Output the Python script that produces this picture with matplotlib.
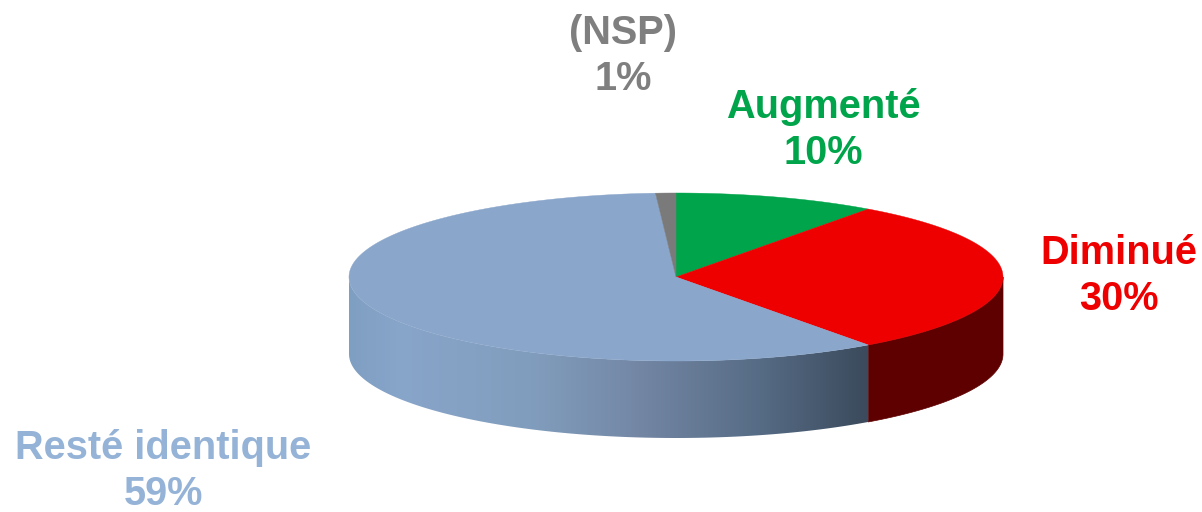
import numpy as np
import matplotlib
matplotlib.use('Agg')
import matplotlib.pyplot as plt
from matplotlib.colors import LinearSegmentedColormap
from matplotlib.patches import Polygon

# order: clockwise from 12 o'clock
labels = ['Augmenté', 'Diminué', 'Resté identique', '(NSP)']
values = [10, 30, 59, 1]
top_colors = ['#00a44a', '#ee0000', '#8aa6cb', '#7a7a7a']
text_colors = ['#00a44a', '#ee0000', '#95b3d7', '#7f7f7f']
side_red = '#5f0000'
label_pos = [(823, 130), (1119, 276), (163, 471), (623, 56)]

CX, CY = 676, 277
RX, RY = 327, 84
DEPTH = 77

plt.rcParams['font.family'] = ['Liberation Sans', 'DejaVu Sans']


def rim(a0, a1, n=200):
    # angles in degrees, clockwise from the top
    t = np.radians(np.linspace(a0, a1, n))
    return CX + RX * np.sin(t), CY - RY * np.cos(t)


def main():
    fig = plt.figure(figsize=(12.02, 5.12), dpi=100)
    ax = fig.add_axes([0, 0, 1, 1])
    ax.set_xlim(0, 1202)
    ax.set_ylim(512, 0)
    ax.axis('off')

    edges = np.cumsum([0] + values) * 3.6

    # side wall, only the front half shows
    red_x, red_y = rim(90, edges[2])
    red_side = np.column_stack([np.r_[red_x, red_x[::-1]], np.r_[red_y, red_y[::-1] + DEPTH]])
    ax.add_patch(Polygon(red_side, closed=True, fc=side_red, ec=side_red, lw=0.5, zorder=1))

    blue_x, blue_y = rim(edges[2], 270)
    blue_side = np.column_stack([np.r_[blue_x, blue_x[::-1]], np.r_[blue_y, blue_y[::-1] + DEPTH]])
    clip = Polygon(blue_side, closed=True, fc='none', ec='none', transform=ax.transData)
    ax.add_patch(clip)
    cmap = LinearSegmentedColormap.from_list('side', [
        (0.00, '#7f9fc2'), (0.10, '#88a5ca'), (0.35, '#819dbd'),
        (0.55, '#7488a6'), (0.80, '#556a83'), (1.00, '#3b4a5c')])
    grad = np.linspace(0, 1, 256).reshape(1, -1)
    im = ax.imshow(grad, cmap=cmap, extent=(blue_x.min(), blue_x.max(), 450, 270),
                   aspect='auto', zorder=1)
    im.set_clip_path(clip)
    ax.set_xlim(0, 1202)
    ax.set_ylim(512, 0)

    # top face
    for a0, a1, col in zip(edges[:-1], edges[1:], top_colors):
        x, y = rim(a0, a1)
        pts = np.column_stack([np.r_[CX, x], np.r_[CY, y]])
        ax.add_patch(Polygon(pts, closed=True, fc=col, ec=col, lw=0.3, zorder=2))

    for name, val, pos, col in zip(labels, values, label_pos, text_colors):
        ax.text(pos[0], pos[1], name + '\n' + str(val) + '%', color=col, fontsize=28.6,
                fontweight='bold', ha='center', va='center', linespacing=1.28, zorder=3)

    fig.savefig('out.png', dpi=100)


if __name__ == '__main__':
    main()
